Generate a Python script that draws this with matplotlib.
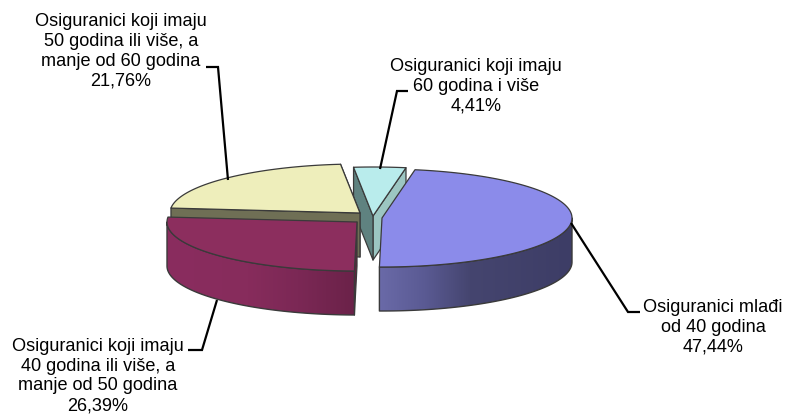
import numpy as np
import matplotlib
matplotlib.use("Agg")
import matplotlib.pyplot as plt
from matplotlib.patches import Polygon
from matplotlib.colors import LinearSegmentedColormap

# ---- data
categories = ["Osiguranici mlađi\nod 40 godina",
              "Osiguranici koji imaju\n40 godina ili više, a\nmanje od 50 godina",
              "Osiguranici koji imaju\n50 godina ili više, a\nmanje od 60 godina",
              "Osiguranici koji imaju\n60 godina i više"]
values = [47.44, 26.39, 21.76, 4.41]

# ---- style / layout
top_colors = ["#8b8bea", "#8c2e5e", "#eeeebb", "#b9ecec"]
centers = [(382, 218), (357, 222), (360, 213), (373, 216)]
label_pos = [(713, 327), (98, 376), (121, 51.5), (476, 86)]
leaders = [[(640, 312), (628, 312), (571, 223)],
           [(188, 350), (202, 350), (217, 300)],
           [(206, 67), (218, 67), (228, 180)],
           [(408, 91), (397, 91), (380, 169)]]
RX, RY, DEPTH = 190, 49, 44
START = 80.0
EDGE = "#3a3a3a"

fig = plt.figure(figsize=(7.88, 4.17), dpi=100)
ax = fig.add_axes([0, 0, 1, 1])

fractions = np.array(values) / sum(values)
ends = START - np.cumsum(fractions) * 360
starts = np.r_[START, ends[:-1]]


def rim(i, a0, a1, n=120):
    cx, cy = centers[i]
    t = np.radians(np.linspace(a0, a1, n))
    return np.c_[cx + RX * np.cos(t), cy - RY * np.sin(t)]


def poly(pts, color, z, lw=0.9, ec=EDGE):
    p = Polygon(pts, closed=True, fc=color, ec=ec, lw=lw, zorder=z, joinstyle="round")
    ax.add_patch(p)
    return p


def shaded_wall(i, a0, a1, stops, cols, z):
    """Outer wall between angles a0 and a1, shaded left to right."""
    pts = rim(i, a0, a1, 200)
    outline = np.vstack([pts, (pts + [0, DEPTH])[::-1]])
    x0, x1 = outline[:, 0].min(), outline[:, 0].max()
    y0, y1 = outline[:, 1].min(), outline[:, 1].max()
    pos = (np.array(stops, float) - stops[0]) / (stops[-1] - stops[0])
    cmap = LinearSegmentedColormap.from_list("w", list(zip(pos, cols)))
    grad = np.linspace(0, 1, 256)[None, :]
    im = ax.imshow(grad, cmap=cmap, extent=(x0, x1, y1, y0), aspect="auto",
                   zorder=z, interpolation="bilinear")
    patch = poly(outline, "none", z + 0.1, lw=1.0)
    im.set_clip_path(patch)


def top(i, z):
    c = np.array(centers[i])
    poly(np.vstack([c, rim(i, starts[i], ends[i])]), top_colors[i], z)


def cut(i, angle, color, z):
    c = np.array(centers[i])
    e = rim(i, angle, angle, 1)[0]
    poly([c, e, e + [0, DEPTH], c + [0, DEPTH]], color, z)


# cyan slice (index 3), behind the yellow one
cut(3, ends[3], "#9cc6c2", 1)
cut(3, starts[3], "#5f8280", 1.1)
top(3, 1.2)

# yellow slice (index 2)
cut(2, ends[2], "#6f6f55", 2)
cut(2, starts[2], "#6f6f55", 2)
top(2, 2.2)

# maroon slice (index 1)
cut(1, starts[1], "#65203f", 3)
shaded_wall(1, 180, starts[1] + 360, [168, 250, 300, 357],
            ["#8a2d5f", "#872c5c", "#7b2855", "#6b2249"], 3.1)
top(1, 3.3)

# blue slice (index 0)
shaded_wall(0, ends[0], 0, [379, 425, 470, 572],
            ["#6a6aa8", "#5a5a93", "#45456f", "#3d3d66"], 4)
top(0, 4.3)

# leaders and labels
for line in leaders:
    ax.plot(*np.array(line).T, color="black", lw=1.6, zorder=6,
            solid_joinstyle="miter", solid_capstyle="butt")

for name, v, (x, y) in zip(categories, values, label_pos):
    txt = name + "\n" + f"{v:.2f}".replace(".", ",") + "%"
    ax.text(x, y, txt, ha="center", va="center", fontsize=13.1,
            family="Liberation Sans", color="black", linespacing=1.22, zorder=7)

ax.set_xlim(0, 788)
ax.set_ylim(417, 0)
ax.axis("off")
fig.savefig("out.png", dpi=100)
